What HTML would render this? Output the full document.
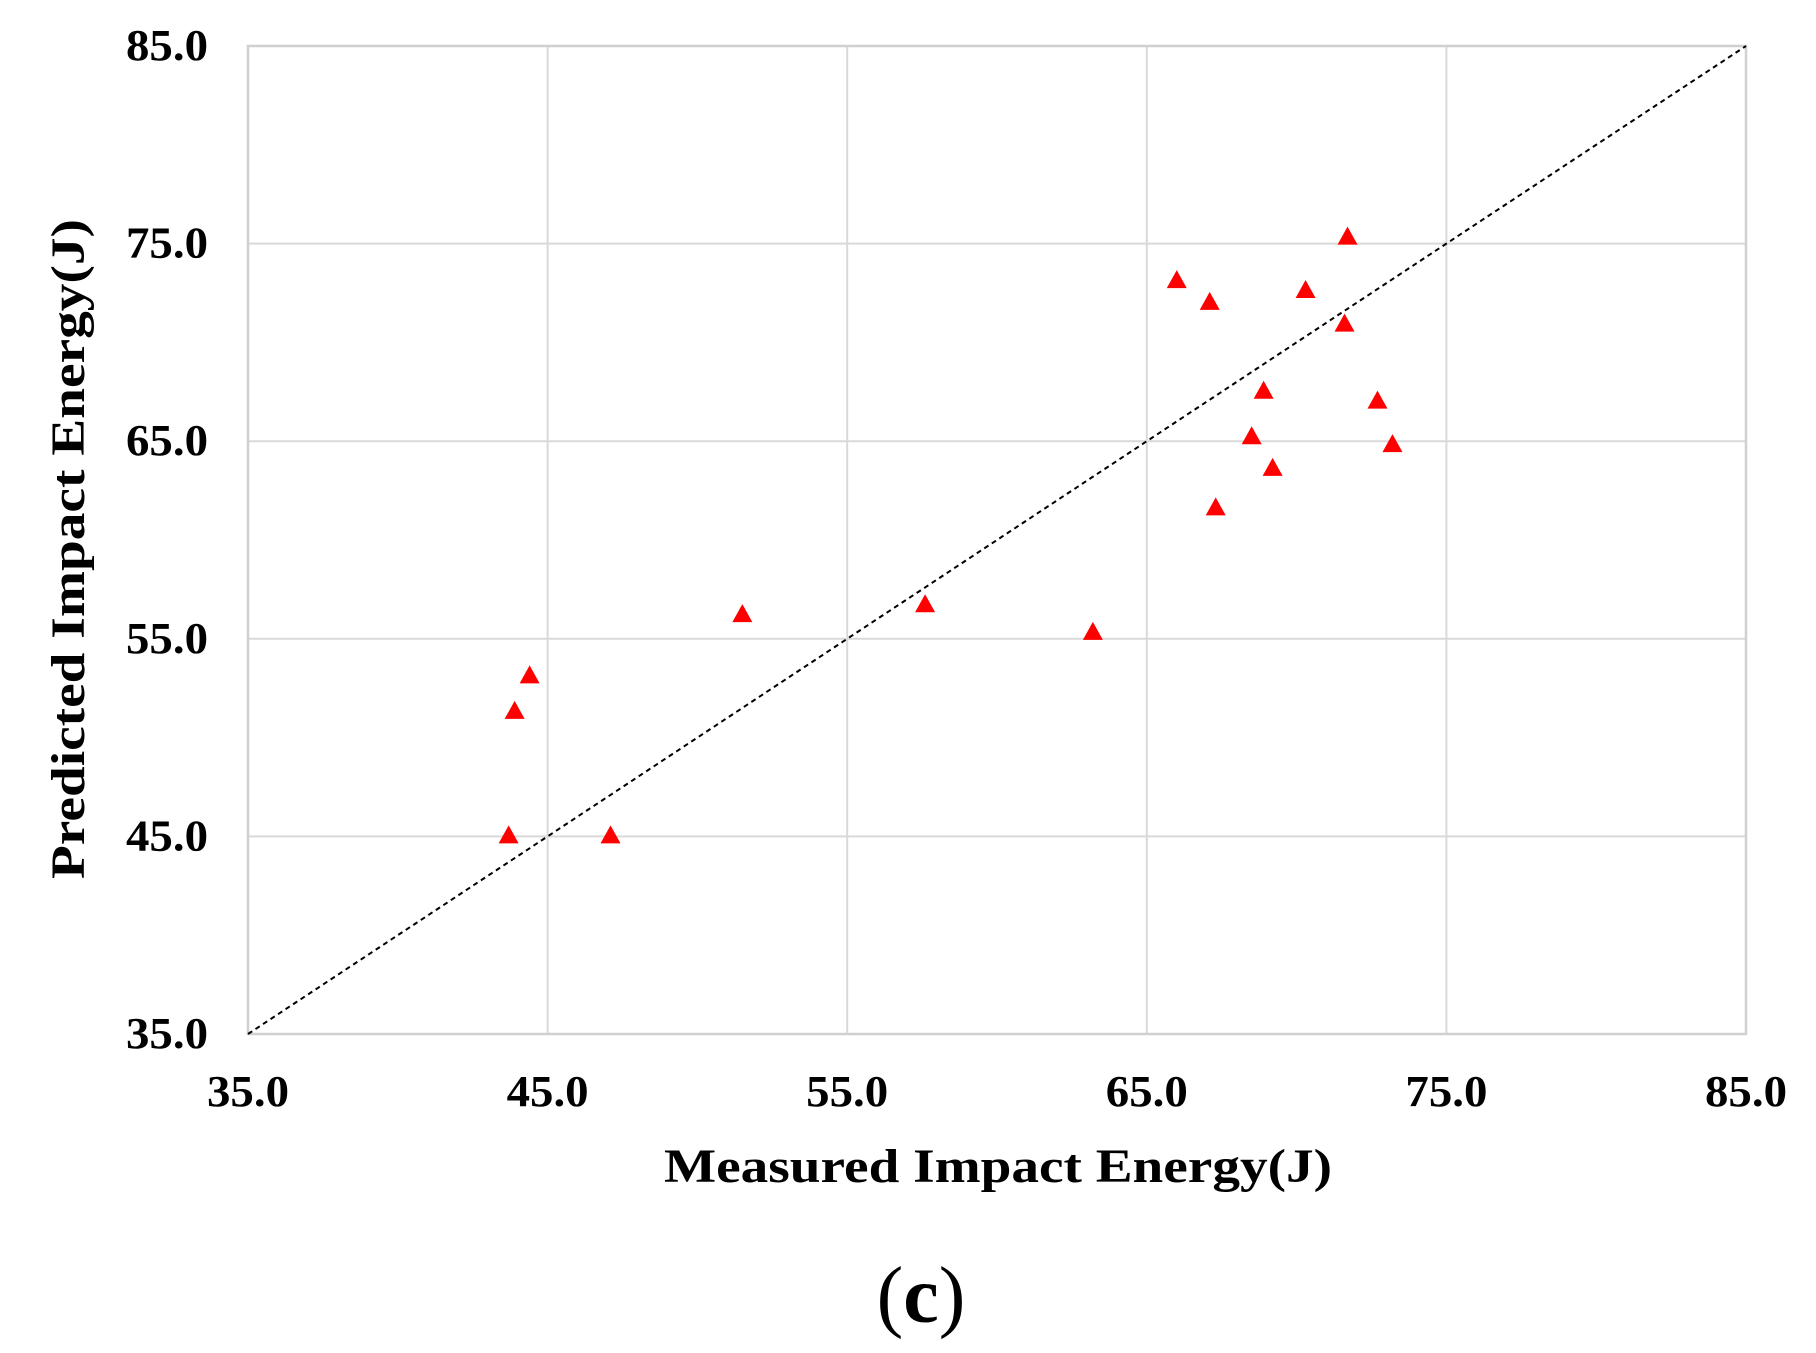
<!DOCTYPE html>
<html><head><meta charset="utf-8"><style>
html,body{margin:0;padding:0;background:#fff;}
svg{display:block;font-family:"Liberation Serif",serif;}
</style></head><body>
<svg id="chart" width="1816" height="1353" viewBox="0 0 1816 1353">
<g id="grid"></g>
<g id="diag"></g>
<g id="pts"></g>
<g id="xt"></g>
<g id="yt"></g>
<text x="998" y="1182" text-anchor="middle" font-size="48" font-weight="bold" textLength="668" lengthAdjust="spacingAndGlyphs">Measured Impact Energy(J)</text>
<text transform="translate(84,549) rotate(-90)" text-anchor="middle" font-size="48" font-weight="bold" textLength="660" lengthAdjust="spacingAndGlyphs">Predicted Impact Energy(J)</text>
<text x="921" y="1322" text-anchor="middle" font-size="80">(<tspan font-weight="bold">c</tspan>)</text>
</svg>
<script>
const measured = [66.0,67.1,71.7,70.3,71.6,68.9,72.7,68.5,73.2,69.2,67.3,57.6,51.5,63.2,44.4,43.9,43.7,47.1];
const predicted = [73.1,72.0,75.3,72.6,70.9,67.5,67.0,65.2,64.8,63.6,61.6,56.7,56.2,55.3,53.1,51.3,45.0,45.0];
const xTicks = [35,45,55,65,75,85];
const yTicks = [35,45,55,65,75,85];
const NS="http://www.w3.org/2000/svg";
const L=248,R=1746,T=46,B=1034,MIN=35,MAX=85;
function sx(v){return L+(v-MIN)/(MAX-MIN)*(R-L);}
function sy(v){return B-(v-MIN)/(MAX-MIN)*(B-T);}
function mk(tag,attrs,parent){const e=document.createElementNS(NS,tag);for(const k in attrs)e.setAttribute(k,attrs[k]);parent.appendChild(e);return e;}
const grid=document.getElementById('grid');
xTicks.forEach(v=>{
  const l=mk('line',{x1:sx(v),x2:sx(v),y1:T,y2:B,stroke:'#d9d9d9','stroke-width':2},grid);
  
  
});
yTicks.forEach(v=>{
  const l=mk('line',{x1:L,x2:R,y1:sy(v),y2:sy(v),stroke:'#d9d9d9','stroke-width':2},grid);
  
  
});
const border=mk('rect',{x:L,y:T,width:R-L,height:B-T,fill:'none',stroke:'#d0d0d0','stroke-width':2.5},grid);


const d=mk('line',{x1:sx(MIN),y1:sy(MIN),x2:sx(MAX),y2:sy(MAX),stroke:'#000','stroke-width':2,'stroke-dasharray':'5,4'},document.getElementById('diag'));


const pts=document.getElementById('pts');
measured.forEach((m,i)=>{
  const x=sx(m),y=sy(predicted[i]);
  const p=mk('polygon',{points:`${x},${y-11} ${x-10},${y+7} ${x+10},${y+7}`,fill:'#ff0000'},pts);
  
  
});
const xt=document.getElementById('xt');
xTicks.forEach(v=>{
  const t=mk('text',{x:sx(v),y:1106,'text-anchor':'middle','font-size':44,'font-weight':'bold',textLength:82,lengthAdjust:'spacingAndGlyphs'},xt);
  t.textContent=v.toFixed(1);
  
  
});
const yt=document.getElementById('yt');
yTicks.forEach(v=>{
  const t=mk('text',{x:208,y:sy(v)+14,'text-anchor':'end','font-size':44,'font-weight':'bold',textLength:82,lengthAdjust:'spacingAndGlyphs'},yt);
  t.textContent=v.toFixed(1);
  
  
});
</script>
</body></html>
